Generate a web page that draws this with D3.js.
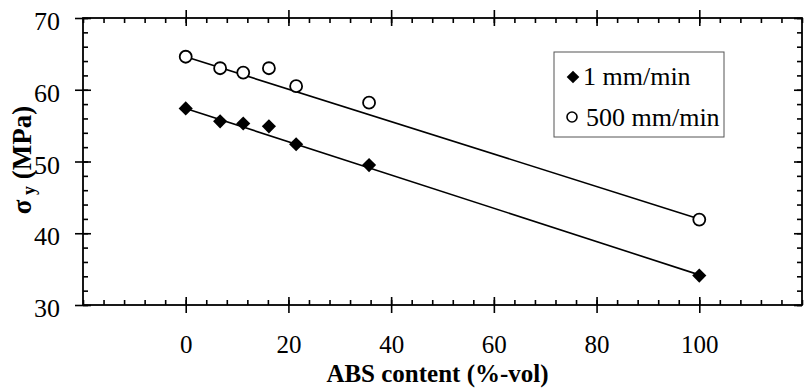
<!DOCTYPE html>
<html>
<head>
<meta charset="utf-8">
<script src="https://d3js.org/d3.v7.min.js"></script>
<style>
  body { margin: 0; background: #fff; }
</style>
</head>
<body>
<div id="chart"></div>
<script>
// data
const absContent = [0, 6.7, 11.2, 16.2, 21.5, 35.7, 100];
const slow = [57.4, 55.6, 55.3, 54.9, 52.4, 49.5, 34.1];   // 1 mm/min
const fast = [64.6, 63.0, 62.4, 63.0, 60.5, 58.2, 41.9];   // 500 mm/min
const fitSlow = [[0, 57.4], [100, 34.2]];
const fitFast = [[0, 64.6], [100, 42.0]];
const xTicks = [0, 20, 40, 60, 80, 100];
const yTicks = [30, 40, 50, 60, 70];
const legendLabels = ["1 mm/min", "500 mm/min"];

const FONT = '"Liberation Serif"';

const width = 804, height = 389;
const margin = {left: 83, right: 2, top: 18, bottom: 84};

const svg = d3.select("#chart").append("svg")
    .attr("width", width)
    .attr("height", height)
    .style("font-family", FONT);

const x = d3.scaleLinear().domain([-20, 120]).range([margin.left, width - margin.right]);
const y = d3.scaleLinear().domain([30, 70]).range([height - margin.bottom, margin.top]);

const xMinor = d3.range(-20, 121, 4);
const yMinor = d3.range(30, 71, 2);

function styleAxis(g) {
    g.attr("font-family", null);
    g.select(".domain").remove();
    g.selectAll("line").attr("stroke", "#000").attr("stroke-width", 1.6);
    g.selectAll("text")
        .style("font-family", FONT)
        .style("font-size", "26px")
        .attr("fill", "#000");
}

// bottom axis
svg.append("g").attr("transform", `translate(0,${y(30)})`)
    .call(d3.axisBottom(x).tickValues(xTicks).tickSize(8).tickPadding(22))
    .call(styleAxis)
    .call(g => g.selectAll("text").style("font-size", "25px"));
svg.append("g").attr("transform", `translate(0,${y(30)})`)
    .call(d3.axisBottom(x).tickValues(xTicks).tickSize(-8).tickFormat(""))
    .call(styleAxis);
svg.append("g").attr("transform", `translate(0,${y(30)})`)
    .call(d3.axisBottom(x).tickValues(xMinor).tickSize(-5).tickFormat(""))
    .call(styleAxis);

// top axis
svg.append("g").attr("transform", `translate(0,${y(70)})`)
    .call(d3.axisTop(x).tickValues(xTicks).tickSize(8).tickFormat(""))
    .call(styleAxis);
svg.append("g").attr("transform", `translate(0,${y(70)})`)
    .call(d3.axisTop(x).tickValues(xTicks).tickSize(-8).tickFormat(""))
    .call(styleAxis);
svg.append("g").attr("transform", `translate(0,${y(70)})`)
    .call(d3.axisTop(x).tickValues(xMinor).tickSize(-5).tickFormat(""))
    .call(styleAxis);

// left axis
svg.append("g").attr("transform", `translate(${x(-20)},0)`)
    .call(d3.axisLeft(y).tickValues(yTicks).tickSize(8).tickPadding(15))
    .call(styleAxis)
    .call(g => g.selectAll("text").attr("dy", "0.45em"));
svg.append("g").attr("transform", `translate(${x(-20)},0)`)
    .call(d3.axisLeft(y).tickValues(yTicks).tickSize(-8).tickFormat(""))
    .call(styleAxis);
svg.append("g").attr("transform", `translate(${x(-20)},0)`)
    .call(d3.axisLeft(y).tickValues(yMinor).tickSize(-5).tickFormat(""))
    .call(styleAxis);

// right axis
svg.append("g").attr("transform", `translate(${x(120)},0)`)
    .call(d3.axisRight(y).tickValues(yMinor).tickSize(-5).tickFormat(""))
    .call(styleAxis);
svg.append("g").attr("transform", `translate(${x(120)},0)`)
    .call(d3.axisRight(y).tickValues(yTicks).tickSize(-8).tickFormat(""))
    .call(styleAxis);

// frame
svg.append("rect")
    .attr("x", x(-20)).attr("y", y(70))
    .attr("width", x(120) - x(-20)).attr("height", y(30) - y(70))
    .attr("fill", "none").attr("stroke", "#000").attr("stroke-width", 1.8);

// fit lines
const line = d3.line().x(d => x(d[0])).y(d => y(d[1]));
[fitSlow, fitFast].forEach(f => {
    svg.append("path").datum(f)
        .attr("d", line)
        .attr("fill", "none").attr("stroke", "#000").attr("stroke-width", 1.6);
});

const diamond = d3.symbol().type(d3.symbolSquare).size(100);

// 1 mm/min diamonds
svg.append("g").selectAll("path")
    .data(absContent.map((c, i) => [c, slow[i]]))
    .join("path")
    .attr("d", diamond)
    .attr("transform", d => `translate(${x(d[0])},${y(d[1])}) rotate(45)`)
    .attr("fill", "#000");

// 500 mm/min circles
svg.append("g").selectAll("circle")
    .data(absContent.map((c, i) => [c, fast[i]]))
    .join("circle")
    .attr("cx", d => x(d[0]))
    .attr("cy", d => y(d[1]))
    .attr("r", 6)
    .attr("fill", "#fff").attr("stroke", "#000").attr("stroke-width", 1.8);

// legend
const lg = svg.append("g");
lg.append("rect")
    .attr("x", 554).attr("y", 52).attr("width", 170).attr("height", 85)
    .attr("fill", "#fff").attr("stroke", "#555").attr("stroke-width", 1);
lg.append("path")
    .attr("d", d3.symbol().type(d3.symbolSquare).size(80))
    .attr("transform", "translate(573,77) rotate(45)")
    .attr("fill", "#000");
lg.append("circle")
    .attr("cx", 572).attr("cy", 117).attr("r", 5)
    .attr("fill", "#fff").attr("stroke", "#000").attr("stroke-width", 1.6);
lg.selectAll("text.lab")
    .data(legendLabels)
    .join("text")
    .attr("class", "lab")
    .attr("x", (d, i) => i === 0 ? 583 : 586)
    .attr("y", (d, i) => i === 0 ? 85 : 126)
    .style("font-family", FONT)
    .style("font-size", "26px")
    .text(d => d);

// axis titles
svg.append("text")
    .attr("x", (x(0) + x(100)) / 2 - 5)
    .attr("y", 382)
    .attr("text-anchor", "middle")
    .style("font-family", FONT)
    .style("font-size", "25px")
    .style("font-weight", "bold")
    .text("ABS content (%-vol)");

const yt = svg.append("text")
    .attr("transform", "translate(31,160) rotate(-90)")
    .attr("text-anchor", "middle")
    .style("font-family", FONT)
    .style("font-size", "27px")
    .style("font-weight", "bold");
yt.append("tspan").text("σ");
yt.append("tspan").attr("dy", 4).style("font-size", "18px").text(" y");
yt.append("tspan").attr("dy", -4).text(" (MPa)");
</script>
</body>
</html>
